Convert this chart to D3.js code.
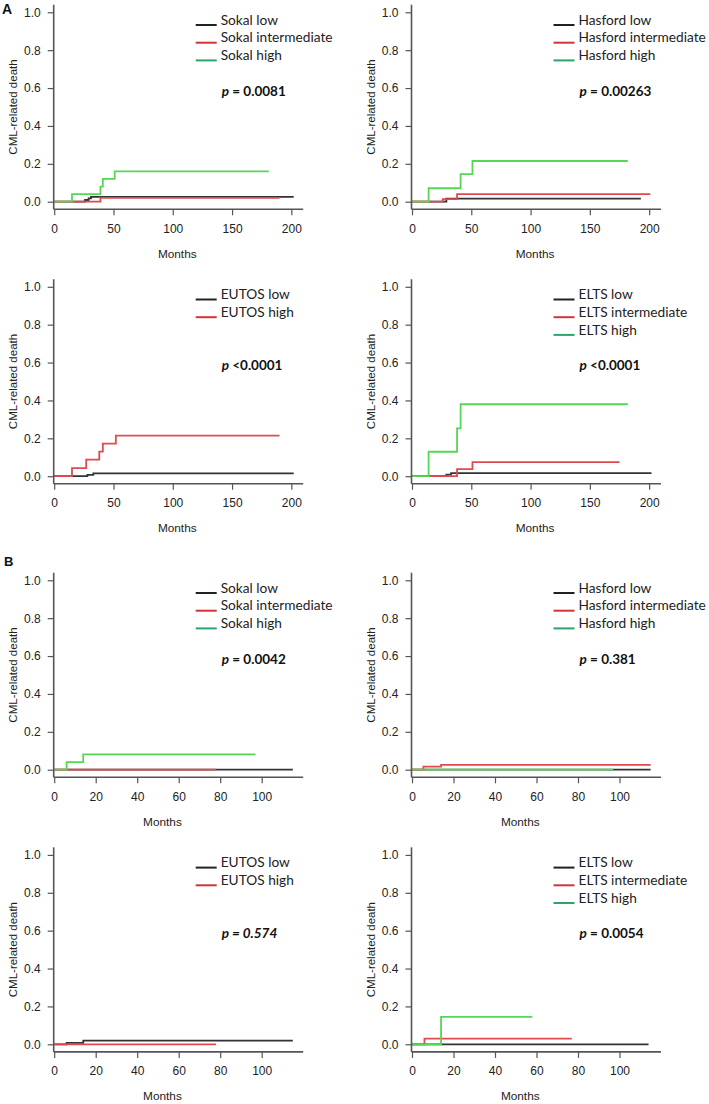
<!DOCTYPE html>
<html>
<head>
<meta charset="utf-8">
<script src="https://cdn.jsdelivr.net/npm/d3@7"></script>
<style>
  html, body { margin: 0; padding: 0; background: #fff; }
  svg { display: block; }
</style>
</head>
<body>
<svg id="chart" width="709" height="1104"></svg>
<script>
// ---------- DATA ----------
const yTicks = [0, 0.2, 0.4, 0.6, 0.8, 1.0];
const xTicksA = [0, 50, 100, 150, 200];
const xTicksB = [0, 20, 40, 60, 80, 100];
const groupNames3 = ["low", "intermediate", "high"];
const groupNames2 = ["low", "high"];

// Each series: [month, cumulative incidence] step points (last point = end of follow-up)
const sokalA_low  = [[0,0],[26,0.009],[29,0.018],[31,0.026],[202,0.026]];
const sokalA_int  = [[0,0],[39,0.02],[190,0.02]];
const sokalA_high = [[0,0],[15,0.04],[39,0.08],[41,0.12],[51,0.16],[181,0.16]];

const hasfordA_low  = [[0,0],[29,0.016],[193,0.016]];
const hasfordA_int  = [[0,0],[26,0.014],[38,0.04],[201,0.04]];
const hasfordA_high = [[0,0],[14,0.071],[41,0.146],[51,0.215],[182,0.215]];

const eutosA_low  = [[0,0],[28,0.007],[33,0.015],[202,0.015]];
const eutosA_high = [[0,0],[15,0.043],[27,0.087],[38,0.13],[41,0.172],[52,0.214],[190,0.214]];

const eltsA_low  = [[0,0],[29,0.008],[33,0.016],[202,0.016]];
const eltsA_int  = [[0,0],[38,0.037],[51,0.074],[175,0.074]];
const eltsA_high = [[0,0],[14,0.129],[38,0.253],[41,0.38],[182,0.38]];

const sokalB_low  = [[0,0],[115,0]];
const sokalB_int  = [[0,0],[78,0]];
const sokalB_high = [[0,0],[6,0.04],[14,0.081],[97,0.081]];

const hasfordB_low  = [[0,0],[115,0]];
const hasfordB_int  = [[0,0],[5.5,0.016],[14,0.026],[115,0.026]];
const hasfordB_high = [[0,0],[97,0]];

const eutosB_low  = [[0,0],[6,0.007],[14,0.019],[115,0.019]];
const eutosB_high = [[0,0],[78,0]];

const eltsB_low  = [[0,0],[114,0]];
const eltsB_int  = [[0,0],[6,0.03],[77,0.03]];
const eltsB_high = [[0,0],[14,0.145],[58,0.145]];

const pValues = ["0.0081", "0.00263", "<0.0001", "<0.0001", "0.0042", "0.381", "0.574", "0.0054"];

// ---------- LAYOUT ----------
const panels = [
  {score:"Sokal",   names:groupNames3, series:[sokalA_low, sokalA_int, sokalA_high],       p:pValues[0], pItalic:false, xMax:210, ticks:xTicksA, col:0, row:0},
  {score:"Hasford", names:groupNames3, series:[hasfordA_low, hasfordA_int, hasfordA_high], p:pValues[1], pItalic:false, xMax:210, ticks:xTicksA, col:1, row:0},
  {score:"EUTOS",   names:groupNames2, series:[eutosA_low, eutosA_high],                   p:pValues[2], pItalic:false, xMax:210, ticks:xTicksA, col:0, row:1},
  {score:"ELTS",    names:groupNames3, series:[eltsA_low, eltsA_int, eltsA_high],          p:pValues[3], pItalic:false, xMax:210, ticks:xTicksA, col:1, row:1},
  {score:"Sokal",   names:groupNames3, series:[sokalB_low, sokalB_int, sokalB_high],       p:pValues[4], pItalic:false, xMax:120, ticks:xTicksB, col:0, row:2},
  {score:"Hasford", names:groupNames3, series:[hasfordB_low, hasfordB_int, hasfordB_high], p:pValues[5], pItalic:false, xMax:120, ticks:xTicksB, col:1, row:2},
  {score:"EUTOS",   names:groupNames2, series:[eutosB_low, eutosB_high],                   p:pValues[6], pItalic:true,  xMax:120, ticks:xTicksB, col:0, row:3},
  {score:"ELTS",    names:groupNames3, series:[eltsB_low, eltsB_int, eltsB_high],          p:pValues[7], pItalic:false, xMax:120, ticks:xTicksB, col:1, row:3}
];

const colX0 = [54.2, 412.0];          // pixel of month 0
const rowY0 = [201.7, 476.2, 769.7, 1044.3]; // pixel of value 0
const plotW = 249;
const unitH = 189.4;                   // pixels per 1.0

const curveColors = ["#333333", "#e04a4f", "#55d655"];
const legendColors = ["#222222", "#d2343a", "#2ea36c"];
const curveColors2 = ["#333333", "#e04a4f"];
const legendColors2 = ["#222222", "#d2343a"];

const svg = d3.select("#chart");
const axisFont = "'Liberation Sans', Arial, sans-serif";
const legFont = "Lato, 'Open Sans', sans-serif";

panels.forEach(P => {
  const x0 = colX0[P.col], y0 = rowY0[P.row];
  const x = d3.scaleLinear().domain([0, P.xMax]).range([x0, x0 + plotW]);
  const y = d3.scaleLinear().domain([-0.04, 1.04]).range([y0 + 0.04*unitH, y0 - 1.04*unitH]);
  const g = svg.append("g");

  const two = P.series.length === 2;
  const cc = two ? curveColors2 : curveColors;
  const lc = two ? legendColors2 : legendColors;

  // curves
  const line = d3.line().x(d => x(d[0])).y(d => y(d[1])).curve(d3.curveStepAfter);
  P.series.forEach((s, i) => {
    g.append("path").datum(s).attr("d", line)
      .attr("fill", "none").attr("stroke", cc[i]).attr("stroke-width", 1.8);
  });

  // axes
  const yAxis = d3.axisLeft(y).tickValues(yTicks).tickFormat(d3.format(".1f")).tickSize(6).tickPadding(7).tickSizeOuter(0);
  const yg = g.append("g").attr("transform", `translate(${x0 - 0.5},0)`).call(yAxis);
  const xAxis = d3.axisBottom(x).tickValues(P.ticks).tickSize(6).tickPadding(9).tickSizeOuter(0);
  const xg = g.append("g").attr("transform", `translate(0,${y(-0.04)})`).call(xAxis);
  [yg, xg].forEach(a => {
    a.select(".domain").attr("stroke", "#555").attr("stroke-width", 1.6);
    a.selectAll(".tick line").attr("stroke", "#555").attr("stroke-width", 1.2);
    a.selectAll(".tick text").attr("fill", "#222").style("font-family", axisFont).style("font-size", "12px");
  });
  yg.select(".domain").attr("d", `M0,${y(1.04)}V${y(-0.04)}`);
  xg.select(".domain").attr("d", `M${x0 - 0.5},0H${x0 + plotW}`);

  // axis titles
  const lastTick = P.ticks[P.ticks.length - 1];
  g.append("text").attr("x", (x0 + x(lastTick)) / 2 + 4.5)
    .attr("y", y0 + 51.7).attr("dy", "0.35em").attr("text-anchor", "middle")
    .style("font-family", axisFont).style("font-size", "11.8px").attr("fill", "#222").text("Months");
  g.append("text").attr("transform", `translate(${x0 - 41.5},${y(0.5)}) rotate(-90)`)
    .attr("dy", "0.35em").attr("text-anchor", "middle")
    .style("font-family", axisFont).style("font-size", "11.5px").attr("fill", "#222").text("CML-related death");

  // legend
  const ly = y(1.0) + 7.7;
  P.names.forEach((n, i) => {
    const yy = ly + i * 17.7;
    g.append("line").attr("x1", x0 + 141.5).attr("x2", x0 + 162.5)
      .attr("y1", yy + 5).attr("y2", yy + 5).attr("stroke", lc[i]).attr("stroke-width", 2);
    g.append("text").attr("x", x0 + 166.5).attr("y", yy).attr("dy", "0.35em")
      .style("font-family", legFont).style("font-size", "13.7px").attr("fill", "#222")
      .text(P.score + " " + n);
  });

  // p value
  const pt = g.append("text").attr("x", x0 + 167.5).attr("y", y(1.0) + 78.5).attr("dy", "0.35em")
    .style("font-family", legFont).style("font-size", "13.5px").style("font-weight", "bold").attr("fill", "#111");
  pt.append("tspan").style("font-style", "italic").text("p");
  const rest = P.p.startsWith("<") ? " " + P.p : " = " + P.p;
  pt.append("tspan").style("font-style", P.pItalic ? "italic" : "normal").text(rest);
});

// panel letters
svg.append("text").attr("x", 2).attr("y", 14).style("font-family", axisFont).style("font-weight", "bold")
  .style("font-size", "14px").attr("fill", "#111").text("A");
svg.append("text").attr("x", 4).attr("y", 566).style("font-family", axisFont).style("font-weight", "bold")
  .style("font-size", "13px").attr("fill", "#111").text("B");
</script>
</body>
</html>
